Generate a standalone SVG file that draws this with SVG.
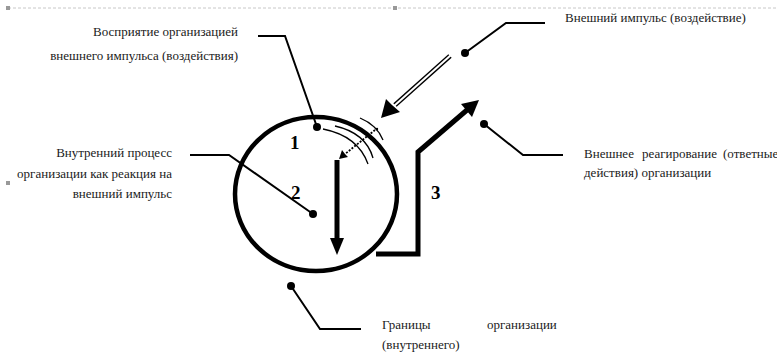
<svg xmlns="http://www.w3.org/2000/svg" width="777" height="352" viewBox="0 0 777 352">
<style>
.t{font-family:"Liberation Serif","Times New Roman",serif;font-size:13px;fill:#1a1a1a}
.r{text-anchor:end}
.n{font-family:"Liberation Serif","Times New Roman",serif;font-size:19px;font-weight:bold;fill:#000}
.lead{fill:none;stroke:#000;stroke-width:2}
.thick{fill:none;stroke:#000;stroke-width:5}
.arc{fill:none;stroke:#000;stroke-width:1.3}
</style>
<rect width="777" height="352" fill="#fff"/>
<g id="page-marks">
<line x1="8" y1="8" x2="777" y2="8" stroke="#c8c8c8" stroke-width="1" stroke-dasharray="3,2"/>
<rect x="6" y="6" width="4" height="4" fill="#999"/>
<rect x="393" y="6" width="4" height="4" fill="#999"/>
<rect x="6" y="181" width="4" height="4" fill="#999"/>
</g>
<g id="organization">
<ellipse cx="316" cy="194" rx="81" ry="77" fill="none" stroke="#000" stroke-width="4.5"/>
<text class="n" x="290" y="149">1</text>
<text class="n" x="291" y="199">2</text>
</g>
<g id="perception">
<path class="arc" d="M323,129 Q358,136 368,164"/>
<path class="arc" d="M335,126 Q366,133 373,158"/>
<path class="arc" d="M360,118 Q377,125 383,140"/>
<circle cx="377" cy="129" r="1.2" fill="#000"/>
</g>
<g id="label-perception">
<text class="t r" x="238" y="36">Восприятие организацией</text>
<text class="t r" x="238" y="60">внешнего импульса (воздействия)</text>
</g>
<g id="label-internal">
<text class="t r" x="172" y="157">Внутренний процесс</text>
<text class="t r" x="172" y="178">организации как реакция на</text>
<text class="t r" x="172" y="198">внешний импульс</text>
</g>
<g id="label-impulse">
<text class="t" x="565" y="22">Внешний импульс (воздействие)</text>
</g>
<g id="label-response">
<text class="t" x="584" y="158">Внешнее</text>
<text class="t" x="642" y="158">реагирование</text>
<text class="t" x="723" y="158">(ответные</text>
<text class="t" x="584" y="177">действия) организации</text>
</g>
<g id="label-boundary">
<text class="t" x="382" y="329">Границы</text>
<text class="t" x="487" y="329">организации</text>
<text class="t" x="382" y="349">(внутреннего)</text>
</g>
<g id="label-3">
<text class="n" x="431" y="199">3</text>
</g>
<g id="connectors">
<polyline class="lead" points="258,36 285,36 317,127"/>
<circle cx="317" cy="127" r="4" fill="#000"/>
<polyline class="lead" points="190,155 229,155 313,214"/>
<circle cx="313" cy="214" r="4" fill="#000"/>
<polyline class="lead" points="545,23 506,23 465,53"/>
<circle cx="465" cy="53" r="4" fill="#000"/>
<polyline class="lead" points="563,155 523,155 484,124"/>
<circle cx="484" cy="124" r="4" fill="#000"/>
<polyline class="lead" points="361,329 320,329 291,286"/>
<circle cx="291" cy="286" r="4" fill="#000"/>
<line x1="450" y1="56" x2="395" y2="105" stroke="#000" stroke-width="5"/>
<line x1="451" y1="55" x2="394" y2="106" stroke="#fff" stroke-width="2"/>
<polygon points="381,118 386,99 392,105 400,112" fill="#000"/>
<line x1="375" y1="130" x2="345" y2="154" stroke="#000" stroke-width="1.8" stroke-dasharray="2,1.5"/>
<polygon points="339,159 342,150 345,154 348,157" fill="#000"/>
<line class="thick" x1="337" y1="160" x2="337" y2="241"/>
<polygon points="337,255 330,238 344,238" fill="#000"/>
<polyline class="thick" points="376,254 418,254 418,152 467,110" stroke-linejoin="miter"/>
<polygon points="479,100 472,117 461,104" fill="#000"/>
</g>
</svg>
